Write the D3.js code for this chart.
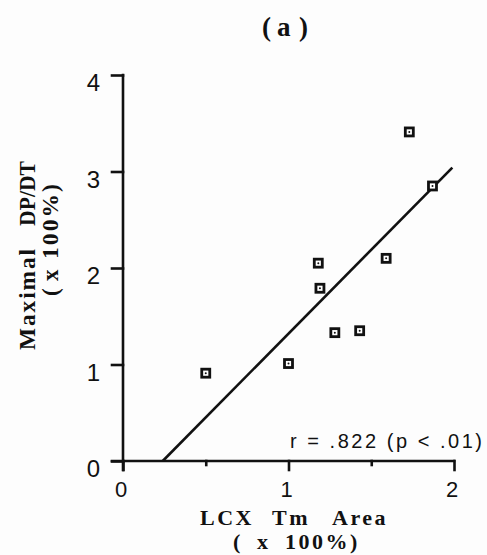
<!DOCTYPE html>
<html>
<head>
<meta charset="utf-8">
<script src="https://cdn.jsdelivr.net/npm/d3@7"></script>
<style>
  html, body { margin: 0; padding: 0; background: #fdfdfd; }
  svg { display: block; }
</style>
</head>
<body>
<script>
// Measurements: LCX Tm area vs maximal dP/dt (both x 100%)
const tmArea   = [0.50, 1.00, 1.28, 1.43, 1.73, 1.87, 1.18, 1.19, 1.59];
const maxDpDt  = [0.91, 1.01, 1.33, 1.35, 3.41, 2.85, 2.05, 1.79, 2.10];

// Regression line end points
const fitX = [0.24, 1.99];
const fitY = [0.00, 3.04];

const xTicks = [0, 1, 2];
const xMinorTicks = [0.5, 1.5];
const yTicks = [0, 1, 2, 3, 4];

const W = 487, H = 555;
const svg = d3.select("body").append("svg")
  .attr("width", W).attr("height", H);

const x = d3.scaleLinear().domain([0, 2]).range([123, 454]);
const y = d3.scaleLinear().domain([0, 4]).range([461, 75]);

const ink = "#111";
const sans = "'Liberation Sans', Arial, Helvetica, sans-serif";
const serif = "'Liberation Serif', 'Times New Roman', serif";

// Axes
const gx = svg.append("g").attr("transform", `translate(0,${y(0)})`);
gx.call(d3.axisBottom(x).tickValues(xTicks).tickSize(9).tickFormat(""));
gx.append("g").call(d3.axisBottom(x).tickValues(xMinorTicks).tickSize(4).tickFormat(""));
gx.selectAll(".domain").remove();
gx.append("line").attr("x1", x(0) - 11).attr("x2", x(2)).attr("y1", 0).attr("y2", 0);

const gy = svg.append("g").attr("transform", `translate(${x(0)},0)`);
gy.call(d3.axisLeft(y).tickValues(yTicks).tickSize(11).tickFormat(""));
gy.selectAll(".domain").remove();
gy.append("line").attr("x1", 0).attr("x2", 0).attr("y1", y(4)).attr("y2", y(0) + 9);

svg.selectAll("line").attr("stroke", ink).attr("stroke-width", 2.6).attr("stroke-linecap", "square");

// Tick labels
svg.append("g").selectAll("text").data(xTicks).join("text")
  .attr("x", d => x(d) - 2).attr("y", y(0) + 36)
  .attr("text-anchor", "middle")
  .attr("font-family", sans).attr("font-size", 22).attr("fill", ink)
  .text(d => d);

svg.append("g").selectAll("text").data(yTicks).join("text")
  .attr("x", 100).attr("y", d => y(d) + 16)
  .attr("text-anchor", "end")
  .attr("font-family", sans).attr("font-size", 24).attr("fill", ink)
  .text(d => d);

// Regression line
svg.append("line")
  .attr("x1", x(fitX[0])).attr("y1", y(fitY[0]))
  .attr("x2", x(fitX[1])).attr("y2", y(fitY[1]))
  .attr("stroke", ink).attr("stroke-width", 2.6);

// Points: open squares with a center dot
const pts = d3.zip(tmArea, maxDpDt);
const s = 8;
const gp = svg.append("g");
gp.selectAll("rect").data(pts).join("rect")
  .attr("x", d => x(d[0]) - s / 2).attr("y", d => y(d[1]) - s / 2)
  .attr("width", s).attr("height", s)
  .attr("fill", "#fff").attr("stroke", ink).attr("stroke-width", 2.8);
gp.selectAll("circle").data(pts).join("circle")
  .attr("cx", d => x(d[0])).attr("cy", d => y(d[1])).attr("r", 1)
  .attr("fill", ink);

// Correlation annotation
svg.append("text")
  .attr("x", 290).attr("y", 448)
  .attr("textLength", 192).attr("lengthAdjust", "spacing")
  .attr("font-family", sans).attr("font-size", 20).attr("fill", ink)
  .text("r = .822 (p < .01)");

// Serif label helper: each word placed at its own offset
function words(parent, parts, yPos, size, spacing) {
  const t = parent.append("text")
    .attr("y", yPos)
    .attr("font-family", serif).attr("font-weight", "bold")
    .attr("font-size", size).attr("letter-spacing", spacing).attr("fill", ink);
  parts.forEach(p => {
    const ts = t.append("tspan").attr("x", p.x).text(p.t);
    if (p.ls !== undefined) ts.attr("letter-spacing", p.ls);
    if (p.len) ts.attr("textLength", p.len).attr("lengthAdjust", "spacingAndGlyphs");
  });
  return t;
}

// Panel title
words(svg, [{ t: "(", x: 262 }, { t: "a", x: 277 }, { t: ")", x: 299 }], 36, 27, 0);

// X axis title
words(svg, [{ t: "LCX", x: 200 }, { t: "Tm", x: 272 }, { t: "Area", x: 332 }], 525, 22, 2.5);
words(svg, [{ t: "(", x: 233 }, { t: "x", x: 257 }, { t: "100%)", x: 285 }], 549, 22, 2.5);

// Y axis title (rotated)
const yt = svg.append("g").attr("transform", "rotate(-90)");
words(yt, [{ t: "Maximal", x: -350, len: 103 }, { t: "DP/DT", x: -226, ls: 0, len: 65 }], 35, 24, 2);
words(yt, [{ t: "(", x: -296 }, { t: "x", x: -281 }, { t: "100%)", x: -259, len: 77 }], 58, 23, 2);
</script>
</body>
</html>
